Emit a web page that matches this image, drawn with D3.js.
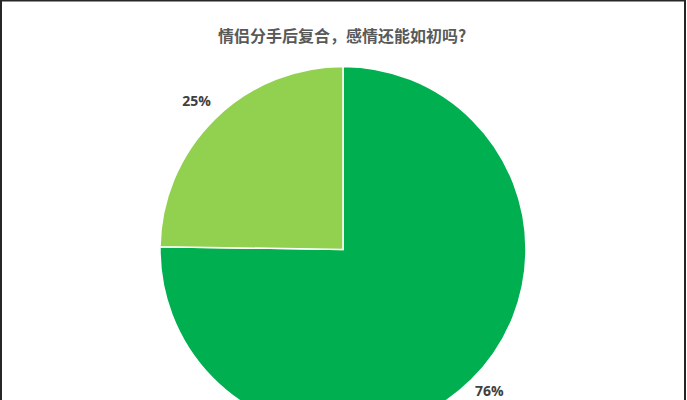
<!DOCTYPE html>
<html>
<head>
<meta charset="utf-8">
<script src="https://cdn.jsdelivr.net/npm/d3@7"></script>
<style>
  html, body { margin: 0; padding: 0; background: #fff; }
</style>
</head>
<body>
<div id="chart"></div>
<script>
var width = 687;
var height = 400;

var title = '情侣分手后复合，感情还能如初吗?';
var categories = ['能', '不能'];
var values = [76, 25];
var labels = ['76%', '25%'];
var colors = ['#00B050', '#92D050'];

var svg = d3.select('#chart').append('svg')
  .attr('width', width)
  .attr('height', height)
  .style('display', 'block');

svg.append('rect')
  .attr('x', 1)
  .attr('y', 0.5)
  .attr('width', width - 3)
  .attr('height', height + 10)
  .attr('fill', '#fff')
  .attr('stroke', '#262626')
  .attr('stroke-width', 2);

svg.append('text')
  .attr('x', 342)
  .attr('y', 42)
  .attr('text-anchor', 'middle')
  .attr('font-family', '"Noto Sans CJK SC", sans-serif')
  .attr('font-weight', 'bold')
  .attr('font-size', '16px')
  .attr('fill', '#595959')
  .text(title);

var radius = 183;
var g = svg.append('g')
  .attr('transform', 'translate(343,249.5)');

var color = d3.scaleOrdinal()
  .domain(categories)
  .range(colors);

var pie = d3.pie()
  .sort(null)
  .value(function(d, i) { return values[i]; });

var arcs = pie(categories);

var arc = d3.arc()
  .innerRadius(0)
  .outerRadius(radius);

var labelArc = d3.arc()
  .innerRadius(radius * 1.14)
  .outerRadius(radius * 1.14);

g.selectAll('path')
  .data(arcs)
  .enter().append('path')
  .attr('d', arc)
  .attr('fill', function(d) { return color(d.data); })
  .attr('stroke', '#fff')
  .attr('stroke-width', 1.5);

// keep the bottom label inside the frame
g.selectAll('text')
  .data(arcs)
  .enter().append('text')
  .attr('transform', function(d) {
    var c = labelArc.centroid(d);
    return 'translate(' + c[0] + ',' + Math.min(c[1], height - 249.5 - 9) + ')';
  })
  .attr('text-anchor', 'middle')
  .attr('dy', '0.35em')
  .attr('font-family', '"Open Sans", sans-serif')
  .attr('font-weight', 'bold')
  .attr('font-size', '14px')
  .attr('fill', '#404040')
  .text(function(d) { return labels[d.index]; });
</script>
</body>
</html>
